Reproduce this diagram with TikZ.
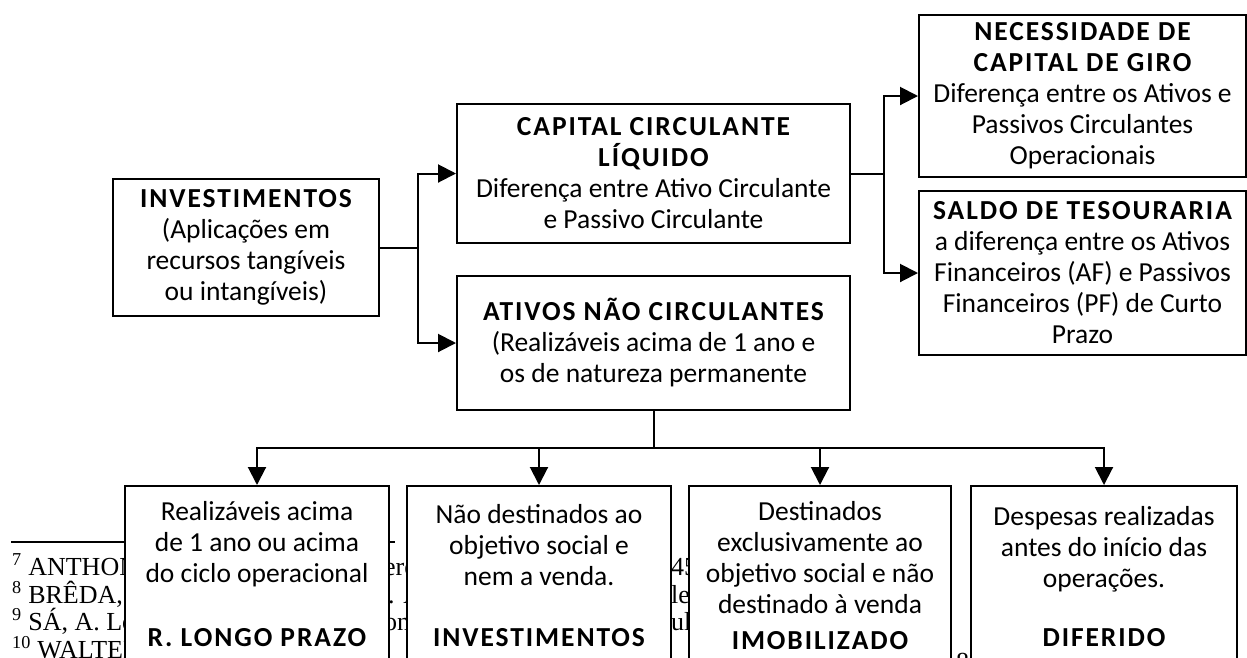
\documentclass[tikz,border=0pt]{standalone}
\usepackage{fontspec}
\setmainfont{Carlito}
\newfontfamily\fnfont{Liberation Serif}
\usetikzlibrary{arrows.meta}
\begin{document}
\begin{tikzpicture}[x=1pt,y=-1pt,
  box/.style={draw,line width=2pt,fill=white,inner sep=0pt,align=center,
    font=\fontsize{27.5}{31}\selectfont},
  arr/.style={line width=2pt,-{Triangle[length=18pt,width=18pt]}},
  con/.style={line width=2pt},
  txt/.style={align=center,inner sep=0pt,font=\fontsize{27.5}{31}\selectfont},
  ttl/.style={inner sep=0pt,font=\fontsize{27.5}{31}\selectfont\bfseries\addfontfeatures{LetterSpace=7}},
  fn/.style={inner sep=0pt,anchor=base west,font=\fontsize{26}{28}\fnfont},
]
\useasboundingbox (0,0) rectangle (1247,657);
\clip (0,0) rectangle (1247,657);
\fill[white] (0,0) rectangle (1247,657);
\newcommand{\B}[1]{{\bfseries\addfontfeatures{LetterSpace=7}#1}}
% footnotes behind
\draw[line width=2pt] (11,542) -- (395,542);
\node[fn] (f7) at (12,575) {\textsuperscript{7} ANTHONY};
\node[fn] (f8) at (12,603) {\textsuperscript{8} BRÊDA, M.};
\node[fn] (f9) at (12,630) {\textsuperscript{9} SÁ, A. Lopes};
\node[fn] (f10) at (12,658) {\textsuperscript{10} WALTER};
\node[fn] (g1a) at (384,575) {ere};
\node[fn] (g1b) at (388,603) {. A};
\node[fn] (g1c) at (384,630) {on};
\node[fn] (g2a) at (671,575) {45};
\node[fn] (g2b) at (671,603) {le};
\node[fn] (g2c) at (671,630) {ul};
\node[fn] (g3a) at (956,670) {8};
% top boxes
\node[box,minimum width=266,minimum height=137] (inv) at (246,247.5)
  {\B{INVESTIMENTOS}\\(Aplicações em\\recursos tangíveis\\ou intangíveis)};
\node[box,minimum width=393,minimum height=139] (ccl) at (653.5,173.5)
  {\B{CAPITAL CIRCULANTE}\\\B{LÍQUIDO}\\Diferença entre Ativo Circulante\\e Passivo Circulante};
\node[box,minimum width=393,minimum height=134] (anc) at (653.5,343)
  {\B{ATIVOS NÃO CIRCULANTES}\\(Realizáveis acima de 1 ano e\\os de natureza permanente};
\node[box,minimum width=327,minimum height=162] (ncg) at (1082.5,96)
  {\B{NECESSIDADE DE}\\\B{CAPITAL DE GIRO}\\Diferença entre os Ativos e\\Passivos Circulantes\\Operacionais};
\node[box,minimum width=327,minimum height=164] (sal) at (1082.5,273)
  {\B{SALDO DE TESOURARIA}\\a diferença entre os Ativos\\Financeiros (AF) e Passivos\\Financeiros (PF) de Curto\\Prazo};
% bottom boxes
\node[box,minimum width=264,minimum height=220,anchor=north] (b1) at (257,485) {};
\node[box,minimum width=264,minimum height=220,anchor=north] (b2) at (539,485) {};
\node[box,minimum width=262,minimum height=220,anchor=north] (b3) at (820,485) {};
\node[box,minimum width=266,minimum height=220,anchor=north] (b4) at (1104,485) {};
\node[txt] (b1t) at (257,544) {Realizáveis acima\\de 1 ano ou acima\\do ciclo operacional};
\node[ttl] (b1h) at (257,638) {R. LONGO PRAZO};
\node[txt] (b2t) at (539,545) {Não destinados ao\\objetivo social e\\nem a venda.};
\node[ttl] (b2h) at (539,638) {INVESTIMENTOS};
\node[txt] (b3t) at (820,558) {Destinados\\exclusivamente ao\\objetivo social e não\\destinado à venda};
\node[ttl] (b3h) at (820,641) {IMOBILIZADO};
\node[txt] (b4t) at (1104,549) {Despesas realizadas\\antes do início das\\operações.};
\node[ttl] (b4h) at (1104,638) {DIFERIDO};
% connectors
\coordinate (j1) at (418,247.5);
\draw[con] (inv.east) -- (j1);
\draw[arr] (j1) |- (ccl.west);
\draw[arr] (j1) |- (anc.west);
\coordinate (j2) at (884,173.5);
\draw[con] (ccl.east) -- (j2);
\draw[arr] (j2) |- (ncg.west);
\draw[arr] (j2) |- (sal.west);
\coordinate (j3) at (653.5,448);
\draw[con] (anc.south) -- (j3);
\draw[arr] (j3) -| (b1.north);
\draw[arr] (j3) -| (b2.north);
\draw[arr] (j3) -| (b3.north);
\draw[arr] (j3) -| (b4.north);
\end{tikzpicture}
\end{document}
